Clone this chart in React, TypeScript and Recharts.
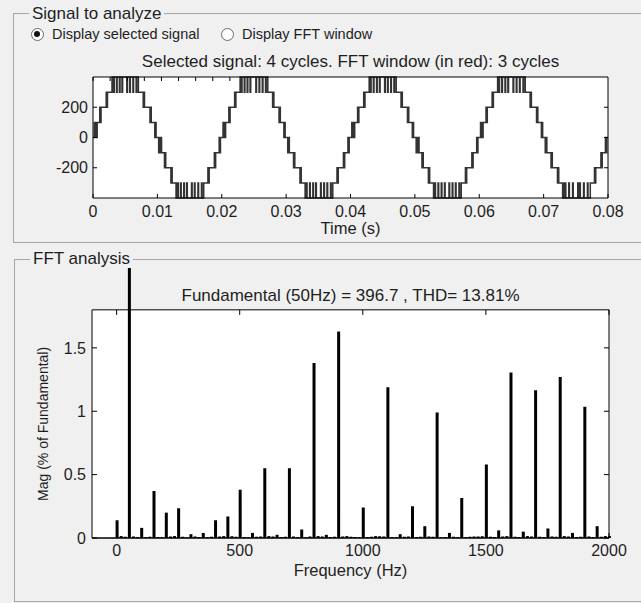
import React from 'react';
import {
  LineChart,
  Line,
  XAxis,
  YAxis,
  CartesianGrid,
  BarChart,
  Bar,
  ReferenceArea,
  ReferenceLine,
} from 'recharts';

const FONT = '"Liberation Sans", Arial, Helvetica, sans-serif';
const INK = '#1e1e1e';

// ---------- Signal to analyze (time in ms, voltage) ----------
const timeTicksMs = [0, 10, 20, 30, 40, 50, 60, 70, 80];
const voltageTicks = [-200, 0, 200];
const voltageDomain = [-400, 400];

const signalSteps: [number, number][] = [
  // cycle 1
  [0, 0], [0.2, 100], [0.3, 0], [0.45, 100], [0.55, 0], [0.65, 100],
  [1.05, 200], [1.15, 100], [1.25, 200],
  [2.05, 300], [2.15, 200], [2.25, 300],
  [2.95, 400], [3.15, 300], [3.3, 400], [3.65, 300], [3.75, 400], [4.1, 300], [4.2, 400], [4.5, 300], [4.6, 400],
  [5.25, 300], [5.35, 400], [5.7, 300], [5.8, 400], [6.2, 300], [6.3, 400], [6.7, 300], [6.8, 400], [7.05, 300],
  [7.8, 200], [7.9, 300], [8.0, 200],
  [8.85, 100], [8.95, 200], [9.05, 100],
  [9.6, 0], [9.7, 100], [9.8, 0],
  [10.2, -100], [10.3, 0], [10.45, -100], [10.55, 0], [10.65, -100],
  [11.1, -200], [11.2, -100], [11.3, -200],
  [12.1, -300], [12.2, -200], [12.3, -300],
  [12.9, -400], [13.1, -300], [13.25, -400], [13.6, -300], [13.7, -400], [14.1, -300], [14.2, -400], [14.55, -300], [14.65, -400],
  [15.3, -300], [15.4, -400], [15.75, -300], [15.85, -400], [16.3, -300], [16.4, -400], [16.85, -300], [16.95, -400], [17.2, -300],
  [17.85, -200], [17.95, -300], [18.05, -200],
  [18.85, -100], [18.95, -200], [19.05, -100],
  [19.6, 0], [19.7, -100], [19.8, 0],
  // cycle 2
  [20.2, 100], [20.3, 0], [20.4, 100], [20.5, 0], [20.6, 100],
  [21.1, 200], [21.2, 100], [21.3, 200],
  [22.0, 300], [22.1, 200], [22.2, 300],
  [22.85, 400], [23.0, 300], [23.15, 400], [23.5, 300], [23.6, 400], [23.95, 300], [24.05, 400], [24.4, 300], [24.5, 400],
  [25.3, 300], [25.4, 400], [25.8, 300], [25.9, 400], [26.3, 300], [26.4, 400], [26.8, 300], [26.9, 400], [27.15, 300],
  [27.9, 200], [28.0, 300], [28.1, 200],
  [28.9, 100], [29.0, 200], [29.1, 100],
  [29.65, 0], [29.75, 100], [29.85, 0],
  [30.25, -100], [30.35, 0], [30.5, -100],
  [31.15, -200], [31.25, -100], [31.35, -200],
  [32.15, -300], [32.25, -200], [32.35, -300],
  [32.95, -400], [33.1, -300], [33.25, -400], [33.65, -300], [33.75, -400], [34.15, -300], [34.25, -400], [34.6, -300], [34.7, -400],
  [35.35, -300], [35.45, -400], [35.85, -300], [35.95, -400], [36.35, -300], [36.45, -400], [36.9, -300], [37.0, -400], [37.25, -300],
  [37.9, -200], [38.0, -300], [38.1, -200],
  [38.9, -100], [39.0, -200], [39.1, -100],
  [39.6, 0], [39.7, -100], [39.8, 0],
  // cycle 3
  [40.2, 100], [40.3, 0], [40.45, 100], [40.55, 0], [40.65, 100],
  [41.1, 200], [41.2, 100], [41.3, 200],
  [42.05, 300], [42.15, 200], [42.25, 300],
  [42.9, 400], [43.1, 300], [43.2, 400], [43.55, 300], [43.65, 400], [44.05, 300], [44.15, 400], [44.5, 300], [44.6, 400],
  [45.3, 300], [45.4, 400], [45.75, 300], [45.85, 400], [46.25, 300], [46.35, 400], [46.75, 300], [46.85, 400], [47.1, 300],
  [47.85, 200], [47.95, 300], [48.05, 200],
  [48.85, 100], [48.95, 200], [49.05, 100],
  [49.6, 0], [49.7, 100], [49.8, 0],
  [50.2, -100], [50.3, 0], [50.45, -100], [50.55, 0], [50.65, -100],
  [51.1, -200], [51.2, -100], [51.3, -200],
  [52.1, -300], [52.2, -200], [52.3, -300],
  [52.9, -400], [53.1, -300], [53.2, -400], [53.6, -300], [53.7, -400], [54.1, -300], [54.2, -400], [54.6, -300], [54.7, -400],
  [55.3, -300], [55.4, -400], [55.8, -300], [55.9, -400], [56.3, -300], [56.4, -400], [56.85, -300], [56.95, -400], [57.2, -300],
  [57.85, -200], [57.95, -300], [58.05, -200],
  [58.85, -100], [58.95, -200], [59.05, -100],
  [59.6, 0], [59.7, -100], [59.8, 0],
  // cycle 4
  [60.2, 100], [60.3, 0], [60.4, 100], [60.5, 0], [60.6, 100],
  [61.05, 200], [61.15, 100], [61.25, 200],
  [62.0, 300], [62.1, 200], [62.2, 300],
  [62.85, 400], [63.0, 300], [63.15, 400], [63.5, 300], [63.6, 400], [64.0, 300], [64.1, 400], [64.45, 300], [64.55, 400],
  [65.25, 300], [65.35, 400], [65.75, 300], [65.85, 400], [66.25, 300], [66.35, 400], [66.8, 300], [66.9, 400], [67.15, 300],
  [67.9, 200], [68.0, 300], [68.1, 200],
  [68.9, 100], [69.0, 200], [69.1, 100],
  [69.65, 0], [69.75, 100], [69.85, 0],
  [70.25, -100], [70.35, 0], [70.5, -100],
  [71.15, -200], [71.25, -100], [71.35, -200],
  [72.15, -300], [72.25, -200], [72.35, -300],
  [72.95, -400], [73.1, -300], [73.2, -400], [73.35, -300], [73.45, -400], [73.9, -300], [74.0, -400], [74.5, -300], [74.6, -400],
  [75.3, -300], [75.4, -400], [75.6, -300], [75.7, -400], [76.2, -300], [76.3, -400], [76.8, -300], [76.9, -400], [77.25, -300],
  [77.9, -200], [78.0, -300], [78.1, -200],
  [78.9, -100], [79.0, -200], [79.1, -100],
  [79.6, 0], [79.7, -100], [79.8, 0], [80, 0],
];

// ---------- FFT analysis ----------
const freqTicks = [0, 500, 1000, 1500, 2000];
const magTicks = [0, 0.5, 1, 1.5];
const FRAME_TOP = 1.8; // top of the axes box (% of fundamental)
const Y_TOP = 2.13; // value at the top of the drawing area (fundamental bar is clipped here)

const harmonicFreqs = [
  0, 50, 100, 150, 200, 250, 300, 350, 400, 450, 500, 550, 600, 650, 700, 750, 800, 850, 900, 950, 1000,
  1050, 1100, 1150, 1200, 1250, 1300, 1350, 1400, 1450, 1500, 1550, 1600, 1650, 1700, 1750, 1800, 1850, 1900, 1950, 2000,
];
const harmonicMags = [
  0.14, 100, 0.08, 0.37, 0.2, 0.235, 0.03, 0.04, 0.14, 0.17, 0.38, 0.04, 0.55, 0.025, 0.55, 0.067, 1.38, 0.025, 1.63, 0.01, 0.24,
  0.015, 1.19, 0.03, 0.25, 0.093, 0.99, 0.04, 0.315, 0.012, 0.58, 0.06, 1.305, 0.05, 1.165, 0.075, 1.27, 0.04, 1.035, 0.093, 0.015,
];
const interFreqs = [
  16.7, 33.3, 66.7, 83.3, 116.7, 133.3, 166.7, 183.3, 216.7, 233.3, 266.7, 283.3, 316.7, 333.3, 366.7, 383.3,
  416.7, 433.3, 466.7, 483.3, 516.7, 533.3, 566.7, 583.3, 616.7, 633.3, 666.7, 683.3, 716.7, 733.3, 766.7, 783.3,
  816.7, 833.3, 866.7, 883.3, 916.7, 933.3, 966.7, 983.3, 1016.7, 1033.3, 1066.7, 1083.3, 1116.7, 1133.3, 1166.7, 1183.3,
  1216.7, 1233.3, 1266.7, 1283.3, 1316.7, 1333.3, 1366.7, 1383.3, 1416.7, 1433.3, 1466.7, 1483.3, 1516.7, 1533.3, 1566.7, 1583.3,
  1616.7, 1633.3, 1666.7, 1683.3, 1716.7, 1733.3, 1766.7, 1783.3, 1816.7, 1833.3, 1866.7, 1883.3, 1916.7, 1933.3, 1966.7, 1983.3,
];
const interMags = [
  0.015, 0.01, 0.012, 0.008, 0.006, 0.01, 0.008, 0.006, 0.012, 0.015, 0.01, 0.006, 0.012, 0.008, 0.006, 0.01,
  0.012, 0.015, 0.014, 0.01, 0.008, 0.006, 0.01, 0.012, 0.015, 0.012, 0.008, 0.01, 0.012, 0.008, 0.006, 0.012,
  0.015, 0.012, 0.008, 0.01, 0.012, 0.015, 0.008, 0.006, 0.008, 0.01, 0.014, 0.012, 0.008, 0.006, 0.01, 0.012,
  0.008, 0.01, 0.012, 0.01, 0.006, 0.008, 0.01, 0.006, 0.006, 0.01, 0.012, 0.014, 0.01, 0.008, 0.012, 0.015,
  0.01, 0.008, 0.015, 0.012, 0.01, 0.008, 0.012, 0.01, 0.015, 0.012, 0.008, 0.01, 0.012, 0.008, 0.01, 0.015,
];

const signalData = signalSteps.map(([t, v]) => ({ t, v }));
const fftData = [
  ...harmonicFreqs.map((f, i) => ({ f, mag: harmonicMags[i] })),
  ...interFreqs.map((f, i) => ({ f, mag: interMags[i] })),
].sort((a, b) => a.f - b.f);

const fmtTime = (v: number) => (v === 0 ? '0' : (v / 1000).toFixed(2));
const NoLabel = () => <g />;

const tickStyle = { fill: INK, fontSize: 16, fontFamily: FONT };
const lineStyle = { stroke: '#000' };

const MagLabel = (props: any) => {
  const vb = props.viewBox || { x: 32, y: 23, width: 60, height: 270 };
  const cx = vb.x + 11;
  const cy = vb.y + vb.height * (1 - FRAME_TOP / 2 / Y_TOP);
  return (
    <text
      x={cx}
      y={cy}
      transform={`rotate(-90, ${cx}, ${cy})`}
      textAnchor="middle"
      dominantBaseline="central"
      fontSize={14}
      fontFamily={FONT}
      fill={INK}
    >
      Mag (% of Fundamental)
    </text>
  );
};

const centered = (left: number, top: number, size: number): React.CSSProperties => ({
  position: 'absolute',
  left,
  top,
  transform: 'translate(-50%, -50%)',
  fontSize: size,
  lineHeight: `${size + 2}px`,
  whiteSpace: 'nowrap',
  color: INK,
  fontFamily: FONT,
});

const leftMid = (left: number, top: number, size: number): React.CSSProperties => ({
  position: 'absolute',
  left,
  top,
  transform: 'translateY(-50%)',
  fontSize: size,
  lineHeight: `${size + 2}px`,
  whiteSpace: 'nowrap',
  color: INK,
  fontFamily: FONT,
});

const Radio = ({ cx, cy, on }: { cx: number; cy: number; on: boolean }) => (
  <div
    style={{
      position: 'absolute',
      left: cx - 6.5,
      top: cy - 6.5,
      width: 13,
      height: 13,
      borderRadius: '50%',
      border: '1px solid #6a6a6a',
      background: '#fff',
      boxSizing: 'border-box',
    }}
  >
    {on && (
      <div
        style={{
          position: 'absolute',
          left: 2.5,
          top: 2.5,
          width: 6,
          height: 6,
          borderRadius: '50%',
          background: '#111',
        }}
      />
    )}
  </div>
);

export default function App() {
  return (
    <div
      style={{
        position: 'relative',
        width: 641,
        height: 603,
        background: '#f0f0f0',
        overflow: 'hidden',
        fontFamily: FONT,
      }}
    >
      <style>{`body{margin:0;}`}</style>

      {/* Panel: Signal to analyze */}
      <div
        style={{
          position: 'absolute',
          left: 13,
          top: 13,
          width: 700,
          height: 230,
          border: '1px solid #a6a6a6',
          boxSizing: 'border-box',
        }}
      />
      <div style={{ ...leftMid(29, 13, 17), background: '#f0f0f0', padding: '0 3px' }}>Signal to analyze</div>
      <Radio cx={37} cy={34} on />
      <div style={leftMid(52, 34, 14.5)}>Display selected signal</div>
      <Radio cx={227} cy={34} on={false} />
      <div style={leftMid(242, 34, 14.5)}>Display FFT window</div>
      <div style={centered(350.5, 61, 17)}>Selected signal: 4 cycles. FFT window (in red): 3 cycles</div>

      <div style={{ position: 'absolute', left: 0, top: 0 }}>
        <LineChart width={641} height={245} data={signalData} margin={{ top: 76, right: 32, bottom: 11, left: 33 }}>
          <CartesianGrid fill="#fff" horizontal={false} vertical={false} stroke="none" />
          <XAxis
            dataKey="t"
            type="number"
            domain={[0, 80]}
            ticks={timeTicksMs}
            interval={0}
            tickFormatter={fmtTime}
            tickSize={-4}
            tickMargin={12}
            height={36}
            axisLine={lineStyle}
            tickLine={lineStyle}
            tick={tickStyle}
            label={{ value: 'Time (s)', position: 'insideBottom', offset: 0, fill: INK, fontSize: 16.5, fontFamily: FONT }}
          />
          <XAxis
            xAxisId="top"
            orientation="top"
            type="number"
            domain={[0, 80]}
            allowDataOverflow
            ticks={timeTicksMs}
            interval={0}
            tickSize={-4}
            height={1}
            axisLine={lineStyle}
            tickLine={lineStyle}
            tick={NoLabel}
          />
          <YAxis
            type="number"
            domain={voltageDomain}
            ticks={voltageTicks}
            interval={0}
            width={60}
            tickSize={-4}
            tickMargin={9}
            axisLine={lineStyle}
            tickLine={lineStyle}
            tick={tickStyle}
          />
          <YAxis
            yAxisId="r"
            orientation="right"
            type="number"
            domain={voltageDomain}
            allowDataOverflow
            ticks={voltageTicks}
            interval={0}
            width={1}
            tickSize={-4}
            axisLine={lineStyle}
            tickLine={lineStyle}
            tick={NoLabel}
          />
          <Line
            type="stepAfter"
            dataKey="v"
            stroke="#333"
            strokeWidth={1.5}
            dot={false}
            isAnimationActive={false}
          />
        </LineChart>
      </div>

      {/* Panel: FFT analysis */}
      <div
        style={{
          position: 'absolute',
          left: 14,
          top: 259,
          width: 700,
          height: 343,
          border: '1px solid #a6a6a6',
          boxSizing: 'border-box',
        }}
      />
      <div style={{ ...leftMid(30, 258, 17), background: '#f0f0f0', padding: '0 3px' }}>FFT analysis</div>
      <div style={centered(350.5, 295, 17)}>Fundamental (50Hz) = 396.7 , THD= 13.81%</div>

      <div style={{ position: 'absolute', left: 0, top: 245 }}>
        <BarChart width={641} height={358} data={fftData} margin={{ top: 23, right: 31, bottom: 27, left: 32 }} barSize={3}>
          <ReferenceArea
            x1={-100}
            x2={2000}
            y1={0}
            y2={FRAME_TOP}
            fill="#fff"
            fillOpacity={1}
            stroke="#000"
            strokeOpacity={1}
            ifOverflow="visible"
          />
          <XAxis
            dataKey="f"
            type="number"
            domain={[-100, 2000]}
            ticks={freqTicks}
            interval={0}
            tickSize={-5}
            tickMargin={12}
            height={38}
            axisLine={lineStyle}
            tickLine={lineStyle}
            tick={tickStyle}
            label={{ value: 'Frequency (Hz)', position: 'insideBottom', offset: 0, fill: INK, fontSize: 16.5, fontFamily: FONT }}
          />
          <YAxis
            type="number"
            domain={[0, Y_TOP]}
            allowDataOverflow
            ticks={magTicks}
            interval={0}
            width={60}
            tickSize={-5}
            tickMargin={11}
            axisLine={false}
            tickLine={lineStyle}
            tick={tickStyle}
            label={{ content: MagLabel }}
          />
          <YAxis
            yAxisId="r"
            orientation="right"
            type="number"
            domain={[0, Y_TOP]}
            allowDataOverflow
            ticks={magTicks}
            interval={0}
            width={1}
            tickSize={-5}
            axisLine={false}
            tickLine={lineStyle}
            tick={NoLabel}
          />
          {freqTicks.map((f) => (
            <ReferenceLine
              key={f}
              segment={[
                { x: f, y: FRAME_TOP },
                { x: f, y: FRAME_TOP - 0.04 },
              ]}
              stroke="#000"
              ifOverflow="visible"
            />
          ))}
          <Bar dataKey="mag" fill="#000" isAnimationActive={false} />
        </BarChart>
      </div>
    </div>
  );
}
